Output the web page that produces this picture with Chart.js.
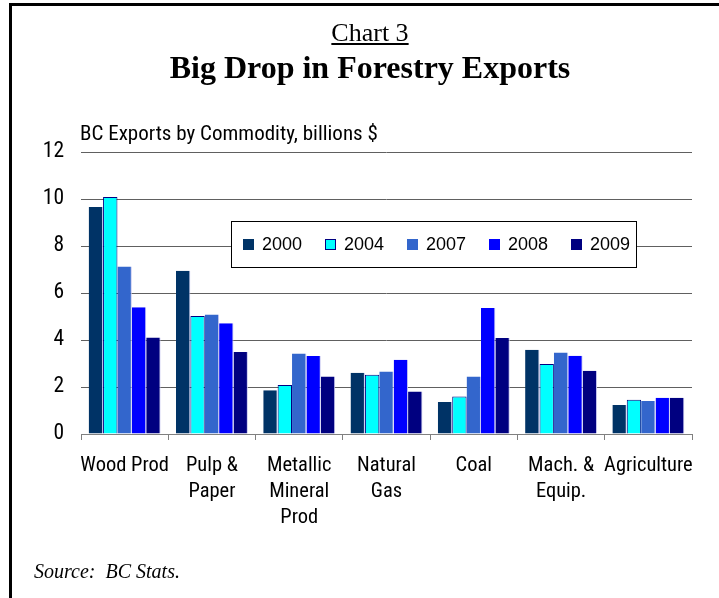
<!DOCTYPE html>
<html>
<head>
<meta charset="utf-8">
<script src="https://cdn.jsdelivr.net/npm/chart.js@4/dist/chart.umd.min.js"></script>
<style>
  html, body { margin:0; padding:0; background:#fff; }
  body { width:719px; height:598px; position:relative; overflow:hidden; }
  #frame { position:absolute; left:9px; top:3px; width:760px; height:640px; border-top:3px solid #000; border-left:3px solid #000; box-sizing:border-box; }
  #cwrap { position:absolute; left:0; top:0; width:719px; height:598px; }
  .t1 { position:absolute; left:0; width:740px; top:20px; text-align:center; font-family:"Liberation Serif","Times New Roman",serif; font-size:26px; line-height:26px; }
  .t1 span { text-decoration:underline; }
  .t2 { position:absolute; left:0; width:740px; top:51px; text-align:center; font-family:"Liberation Serif","Times New Roman",serif; font-weight:bold; font-size:32px; line-height:32px; }
  .sub { position:absolute; left:80px; top:123px; font-family:"Roboto Condensed","Liberation Sans Narrow","Arial Narrow",sans-serif; font-size:21px; line-height:21px; white-space:nowrap; }
  .src { position:absolute; left:34px; top:561px; font-family:"Liberation Serif","Times New Roman",serif; font-style:italic; font-size:20px; line-height:20px; white-space:nowrap; }
  #legend { position:absolute; left:231px; top:221px; width:406px; height:47px; box-sizing:border-box; border:1px solid #000; background:#fff; }
  .li { position:absolute; top:0; height:45px; display:flex; align-items:center; font-family:"Liberation Sans",Arial,sans-serif; font-size:18px; color:#000; white-space:nowrap; }
  .sw { width:11px; height:11px; box-sizing:border-box; margin-right:8px; }
</style>
</head>
<body>
<div id="cwrap"><canvas id="c" width="719" height="598"></canvas></div>
<div id="frame"></div>
<div class="t1"><span>Chart 3</span></div>
<div class="t2">Big Drop in Forestry Exports</div>
<div class="sub">BC Exports by Commodity, billions $</div>
<div id="legend"></div>
<div class="src">Source:&nbsp; BC Stats.</div>
<script>
const categories = ["Wood Prod", ["Pulp &", "Paper"], ["Metallic", "Mineral", "Prod"], ["Natural", "Gas"], "Coal", ["Mach. &", "Equip."], "Agriculture"];
const seriesNames = ["2000", "2004", "2007", "2008", "2009"];
const v2000 = [9.66, 6.95, 1.86, 2.61, 1.36, 3.59, 1.23];
const v2004 = [10.09, 5.02, 2.09, 2.52, 1.60, 2.98, 1.46];
const v2007 = [7.13, 5.09, 3.43, 2.66, 2.45, 3.47, 1.40];
const v2008 = [5.39, 4.71, 3.32, 3.16, 5.36, 3.33, 1.54];
const v2009 = [4.11, 3.49, 2.45, 1.81, 4.09, 2.69, 1.54];
const yTicks = [0, 2, 4, 6, 8, 10, 12];

const colors = ["#003366", "#00FFFF", "#3366CC", "#0000FF", "#000080"];
const borders = ["#c8c8f0", "#000080", "#c8c8f0", "#c8c8f0", "#c8c8f0"];
const values = [v2000, v2004, v2007, v2008, v2009];

const datasets = seriesNames.map((n, i) => ({
  label: n,
  data: values[i],
  backgroundColor: colors[i],
  borderColor: borders[i],
  borderWidth: i === 1 ? {top:1, left:1, right:1, bottom:0} : {top:0, left:0, right:1, bottom:0},
  categoryPercentage: 0.824,
  barPercentage: 1.0
}));

const narrow = '"Roboto Condensed","Liberation Sans Narrow","Arial Narrow",sans-serif';

new Chart(document.getElementById('c'), {
  type: 'bar',
  data: { labels: categories, datasets },
  options: {
    responsive: false,
    animation: false,
    layout: { padding: { left: 0, right: 27, top: 152, bottom: 64 } },
    plugins: { legend: { display: false }, tooltip: { enabled: false } },
    scales: {
      x: {
        grid: { display: true, offset: true, drawOnChartArea: false, drawTicks: true, tickLength: 6, color: '#808080', lineWidth: 1 },
        border: { display: true, color: '#808080', width: 1 },
        ticks: { color: '#000', font: { family: narrow, size: 20.5, lineHeight: 1.27 }, padding: 13, maxRotation: 0, autoSkip: false },
        afterFit: (s) => { s.height = 100; }
      },
      y: {
        min: 0, max: 12,
        afterBuildTicks: (s) => { s.ticks = yTicks.map(v => ({ value: v })); },
        grid: { display: true, drawTicks: false, color: (ctx) => ctx.tick && ctx.tick.value === 0 ? 'rgba(0,0,0,0)' : '#606060', lineWidth: 1 },
        border: { display: false },
        ticks: { color: '#000', font: { family: narrow, size: 21.5 }, padding: 17 },
        afterFit: (s) => { s.width = 81; }
      }
    }
  }
});

const leg = document.getElementById('legend');
seriesNames.forEach((n, i) => {
  const item = document.createElement('div');
  item.className = 'li';
  item.style.left = (11 + i * 82) + 'px';
  const sw = document.createElement('div');
  sw.className = 'sw';
  sw.style.background = colors[i];
  if (i === 1) sw.style.border = '1px solid #000080';
  item.appendChild(sw);
  item.appendChild(document.createTextNode(n));
  leg.appendChild(item);
});
</script>
</body>
</html>
